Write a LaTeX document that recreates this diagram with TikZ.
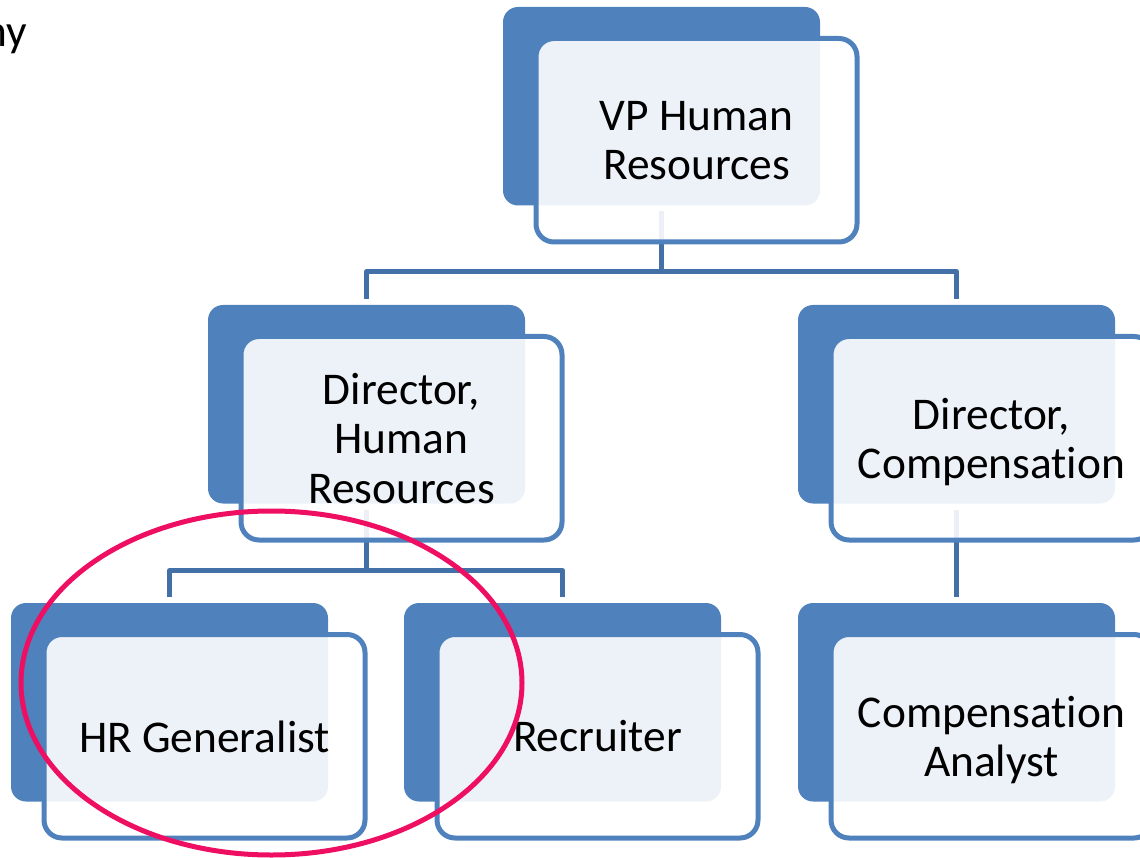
\documentclass[tikz,border=0pt]{standalone}
\usepackage{fontspec}
\setmainfont{Carlito}[Ligatures=NoCommon]
\usetikzlibrary{shapes.geometric}
\definecolor{accent}{RGB}{79,129,189}
\definecolor{connc}{RGB}{68,112,168}
\definecolor{hlc}{RGB}{238,14,98}
\tikzset{
  bluebox/.style={rectangle, fill=accent, draw=none, rounded corners=15pt,
    minimum width=317pt, minimum height=198.5pt, anchor=north west,
    inner sep=0pt, outer sep=0pt},
  outbox/.style={rectangle, draw=accent, line width=5pt, fill=white,
    fill opacity=0.9, draw opacity=1, text opacity=1, rounded corners=18pt,
    minimum width=321pt, minimum height=203.5pt, anchor=north west,
    inner sep=0pt, outer sep=0pt, align=center, text depth=0pt,
    font=\fontsize{45.4}{49.5}\selectfont},
  conn/.style={draw=connc, line width=5pt, line join=round},
  hlring/.style={ellipse, draw=hlc, line width=5pt, minimum width=501pt,
    minimum height=344pt, inner sep=0pt, outer sep=0pt}
}
\begin{document}
\begin{tikzpicture}[x=1pt,y=-1pt]
\useasboundingbox (0,0) rectangle (1140,858);
% back blue boxes
\path
  (503,7)   node[bluebox] (vpB) {}
  (208,305) node[bluebox] (dhrB) {}
  (798,305) node[bluebox] (dcB) {}
  (11,603)  node[bluebox] (hgB) {}
  (404,603) node[bluebox] (recB) {}
  (798,603) node[bluebox] (caB) {};
% connectors
\draw[conn] ([yshift=-6pt]vpB.south) -- ++(0,60) coordinate (b1) -| ([yshift=6pt]dhrB.north);
\draw[conn] (b1) -| ([yshift=6pt]dcB.north);
\draw[conn] ([yshift=-6pt]dhrB.south) -- ++(0,61) coordinate (b2) -| ([yshift=6pt]hgB.north);
\draw[conn] (b2) -| ([yshift=6pt]recB.north);
\draw[conn] ([yshift=-6pt]dcB.south) -- ([yshift=6pt]caB.north);
% front translucent boxes with text
\node[outbox] (vp)  at (536,38.5)  {VP Human\\Resources};
\node[outbox] (dhr) at (241,336.5) {Director,\\Human\\Resources};
\node[outbox] (dc)  at (831,336.5) {Director,\\Compensation};
\node[outbox] (hg)  at (44,634.5)  {HR Generalist};
\node[outbox] (rec) at (437,634.5) {Recruiter};
\node[outbox] (ca)  at (831,634.5) {Compensation\\Analyst};
% partial title text
\node[anchor=base east, inner sep=0pt, font=\fontsize{45.4}{49.5}\selectfont] (ny) at (27,46.7) {ny};
% highlight ring
\node[hlring] (hl) at (271.5,683) {};
\end{tikzpicture}
\end{document}
